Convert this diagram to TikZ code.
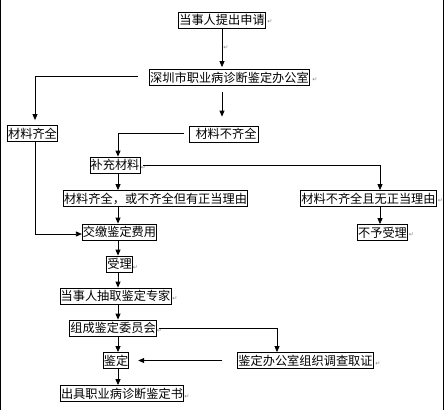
\documentclass[tikz,border=0pt]{standalone}
\usepackage{fontspec}
\newfontfamily\cjk{Noto Sans CJK SC}
\newfontfamily\symf{DejaVu Sans}
\usetikzlibrary{arrows.meta,calc}
\tikzset{
  x=1pt,y=-1pt,
  box/.style={draw,line width=0.8pt,inner xsep=0.6pt,inner ysep=0pt,minimum height=16pt,
    font=\cjk\fontsize{12.2}{14}\selectfont,text height=10.6pt,text depth=1.6pt},
  arr/.style={line width=0.8pt,-{Triangle[length=6pt,width=5pt]}},
  ln/.style={line width=0.8pt},
  ret/.style={font=\symf\fontsize{6}{6}\selectfont,text=gray,inner sep=0pt},
}
\begin{document}
\begin{tikzpicture}
\useasboundingbox (0,0) rectangle (444,410);
\draw[line width=1.4pt] (0.7,0) -- (0.7,410);
\draw[line width=1.4pt] (443.3,0) -- (443.3,410);
\coordinate (spine) at (118,0);

\node[box] (b1) at (222,20) {当事人提出申请};
\node[box] (b2) at (229.5,77.5) {深圳市职业病诊断鉴定办公室};
\node[box] (b3) at (32.5,133.5) {材料齐全};
\node[box,minimum width=69pt] (b4) at (223.5,134) {\hspace{5pt}材料不齐全};
\node[box] (b5) at (115,165) {补充材料};
\node[box] (b6) at (155.5,198.5) {材料齐全，或不齐全但有正当理由};
\node[box] (b7) at (368.5,198.5) {材料不齐全且无正当理由};
\node[box] (b8) at (382.5,232.5) {不予受理};
\node[box] (b9) at (119.5,232) {交缴鉴定费用};
\node[box] (b10) at (119.5,264) {受理};
\node[box] (b11) at (115.5,296) {当事人抽取鉴定专家};
\node[box] (b12) at (113,328) {组成鉴定委员会};
\node[box] (b13) at (116,360.5) {鉴定};
\node[box] (b14) at (305.5,360.5) {鉴定办公室组织调查取证};
\node[box] (b15) at (122,393.5) {出具职业病诊断鉴定书};

% return marks
\node[ret] (r1) at (270,22) {↵};
\node[ret] (r2) at (226,48) {↵};
\node[ret] (r3) at (315,80) {↵};
\node[ret] (r4) at (143.5,168) {↵};
\node[ret] (r5) at (440.5,201) {↵};
\node[ret] (r6) at (411.5,235) {↵};
\node[ret] (r7) at (135.5,268) {↵};
\node[ret] (r8) at (175,299) {↵};
\node[ret] (r9) at (159.5,331) {↵};
\node[ret] (r10) at (378,364) {↵};
\node[ret] (r11) at (187,397) {↵};

% connectors
\draw[arr,shorten >=2pt] (b1.south) -- (b1.south |- b2.north);
\coordinate (c2a) at ($(b2.west)+(-11,-1.5)$);
\draw[arr,shorten >=5pt] (c2a) -| ([xshift=2.5pt]b3.north);
\draw[arr,shorten <=6pt,shorten >=9pt] (b1.south |- b2.south) -- (b1.south |- b4.north);
\coordinate (c4a) at ($(b4.west)+(-5,-1)$);
\draw[arr] (c4a) -| (b5.north -| spine);
\coordinate (c5a) at ($(b5.east)+(3,0)$);
\draw[arr] (c5a) -| ([xshift=11.5pt]b7.north);
\draw[arr] (b5.south -| spine) -- (b6.north -| spine);
\draw[arr] ([xshift=11.5pt]b7.south) -- ([xshift=-2.5pt]b8.north);
\draw[arr] (b6.south -| spine) -- (b9.north -| spine);
\draw[arr] ([xshift=2.5pt]b3.south) |- ([yshift=-2pt]b9.west);
\draw[arr] (b9.south -| spine) -- (b10.north -| spine);
\draw[arr] (b10.south -| spine) -- (b11.north -| spine);
\draw[arr] (b11.south -| spine) -- (b12.north -| spine);
\draw[arr] (b12.south -| spine) -- (b13.north -| spine);
\draw[arr] (b13.south -| spine) -- (b15.north -| spine);
\coordinate (c12a) at ($(b12.east)+(2,0)$);
\draw[arr] (c12a) -| ([xshift=-28.5pt]b14.north);
\draw[arr,shorten <=15pt,shorten >=9pt] (b14.west) -- (b13.east);
\end{tikzpicture}
\end{document}
